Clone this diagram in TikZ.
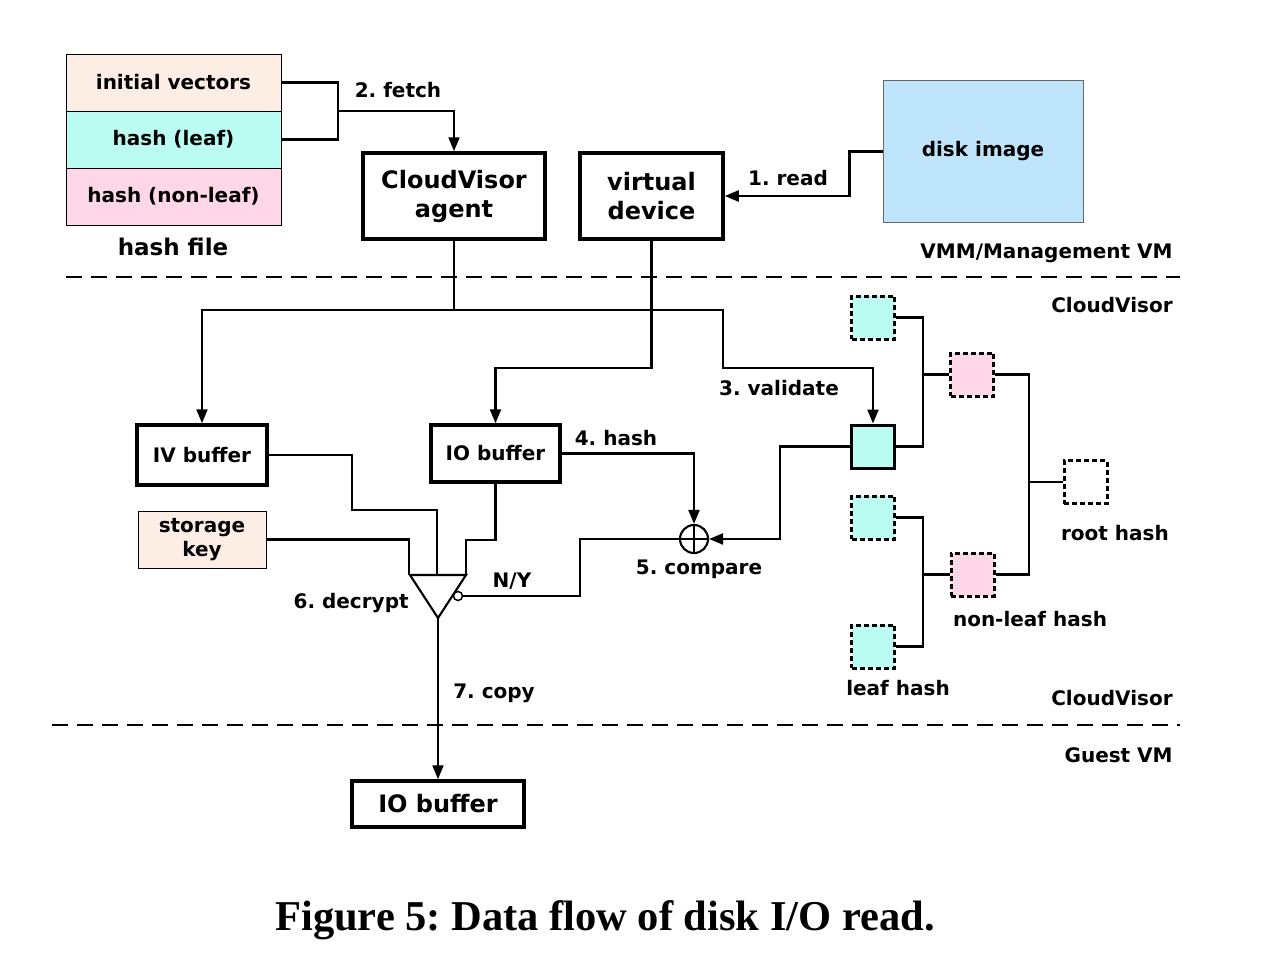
\documentclass[tikz,border=0pt]{standalone}
\usepackage{fontspec}
\setmainfont{DejaVu Sans}
\newfontfamily\capfont{Liberation Serif}
\usepackage{tikz}
\usetikzlibrary{arrows.meta}
\definecolor{ivfill}{RGB}{252,238,228}
\definecolor{leaffill}{RGB}{187,253,243}
\definecolor{nlfill}{RGB}{255,215,230}
\definecolor{diskfill}{RGB}{190,229,252}
\frenchspacing

\begin{document}
\begin{tikzpicture}[x=1pt,y=-1pt,line width=2.1pt,>={Triangle[length=14pt,width=11pt]},
  lbl/.style={font=\fontsize{20}{24}\selectfont\bfseries},
  big/.style={font=\fontsize{24}{29}\selectfont\bfseries,align=center},
  cell/.style={draw,line width=1pt,minimum width=215pt,minimum height=57pt,font=\fontsize{20}{24}\selectfont\bfseries},
  box/.style={draw,line width=3.5pt,lbl},
  sq/.style={draw,line width=3pt,minimum size=43pt,dash pattern=on 5pt off 3pt},
  sep/.style={dash pattern=on 16pt off 9pt}]
\useasboundingbox (0,0) rectangle (1275,956);

% hash file
\node [cell,fill=ivfill] (iv) at (173.5,82.5) {initial vectors};
\node [cell,fill=leaffill] (hl) at (173.5,139.5) {hash (leaf)};
\node [cell,fill=nlfill] (hnl) at (173.5,196.5) {hash (non-leaf)};
\node [font=\fontsize{23}{27}\selectfont\bfseries] (hf) at (173,247) {hash file};

% VMM side
\node [box,big,minimum width=182pt,minimum height=86pt] (agent) at (454,196) {CloudVisor\\agent};
\node [box,big,minimum width=143pt,minimum height=86pt] (vdev) at (651.5,196) {virtual\\device};
\node [draw,line width=1pt,draw=black!60,fill=diskfill,minimum width=200pt,minimum height=142pt,lbl] (disk) at (983,151.5) {disk image};
\coordinate (fj) at (338,111);
\draw (iv.east) -| (fj) |- (hl.east);
\draw [->] (fj) -| (agent.north);
\node [lbl] (fetch) at (398,90) {2. fetch};
\draw [->] (disk.west) -- ++(-33,0) |- (vdev.east);
\node [lbl] (read) at (788,178) {1. read};
\node [lbl,anchor=east] (vmm) at (1177,253) {VMM/Management VM};
\draw [sep] (66,277) -- (1180,277);
\node [lbl,anchor=east] (cv1) at (1177,305) {CloudVisor};

% hash tree
\node [sq,fill=leaffill] (l1) at (873,317.5) {};
\node [draw,line width=3pt,minimum size=43pt,fill=leaffill] (lf) at (873,446.5) {};
\node [sq,fill=leaffill] (l3) at (873,517.5) {};
\node [sq,fill=leaffill] (l4) at (873,646.5) {};
\node [sq,fill=nlfill] (n1) at (972,374.5) {};
\node [sq,fill=nlfill] (n2) at (972.5,574.5) {};
\node [sq] (root) at (1085.5,482) {};
\coordinate (j1) at (923,374.5);
\coordinate (j2) at (923,574.5);
\coordinate (j3) at (1029,482);
\draw (l1.east) -| (923,446.5) -- (lf.east);
\draw (j1) -- (n1.west);
\draw (l3.east) -| (923,646.5) -- (l4.east);
\draw (j2) -- (n2.west);
\draw (n1.east) -| (1029,574.5) -- (n2.east);
\draw (j3) -- (root.west);
\node [lbl] (rootl) at (1115,533) {root hash};
\node [lbl] (nll) at (1030,619) {non-leaf hash};
\node [lbl] (lfl) at (898,688) {leaf hash};

% buffers
\node [box,minimum width=130pt,minimum height=60pt] (ivbuf) at (202,455) {IV buffer};
\node [box,minimum width=129pt,minimum height=57pt] (iobuf) at (495.5,453.5) {IO buffer};
\node [draw,line width=1pt,fill=ivfill,minimum width=128pt,minimum height=57pt,lbl,align=center] (key) at (202,539.5) {storage\\key};
\coordinate (split) at (454,310);
\draw (agent.south) -- (split);
\draw [->] (split) -| (ivbuf.north);
\draw [->] (split) -| (723,368) -| (lf.north);
\draw [->] (vdev.south) -- (651.5,368) -| (iobuf.north);
\node [lbl] (valid) at (779,388) {3. validate};

% decrypt
\coordinate (dk) at (409,575);
\coordinate (dv) at (437,575);
\coordinate (dio) at (466,575);
\coordinate (dec) at (438,618);
\draw (410,575) -- (466,575) -- (dec) -- cycle;
\node [circle,draw,line width=1.5pt,minimum size=9pt,inner sep=0pt,fill=white] (bub) at (458,596) {};
\draw (key.east) -| (dk);
\draw (ivbuf.east) -| (352,510) -| (dv);
\draw (iobuf.south) -- (495.5,540) -| (dio);
\node [lbl,anchor=east] (decl) at (413,603) {6. decrypt};
\node [lbl] (ny) at (512,581) {N/Y};

% compare
\node [circle,draw,minimum size=28pt,inner sep=0pt] (cmp) at (694,539) {};
\draw (cmp.north) -- (cmp.south);
\draw (cmp.west) -- (cmp.east);
\draw (bub.east) -| (580,539) -- (cmp.west);
\draw [->] (iobuf.east) -| (cmp.north);
\draw [->] (lf.west) -| (780,539) -- (cmp.east);
\node [lbl] (hash) at (616,438) {4. hash};
\node [lbl] (cmpl) at (699,569) {5. compare};

% guest
\node [lbl,anchor=east] (cv2) at (1177,698) {CloudVisor};
\draw [sep] (52,725) -- (1180,725);
\node [lbl,anchor=east] (guest) at (1177,755) {Guest VM};
\node [box,minimum width=172pt,minimum height=46pt,font=\fontsize{24}{28}\selectfont\bfseries] (io2) at (438,804) {IO buffer};
\draw [->] (dec) -- (io2.north);
\node [lbl] (copy) at (494,693) {7. copy};

\node [font=\capfont\fontsize{42.5}{50}\selectfont\bfseries] (cap) at (605,920) {Figure 5: Data flow of disk I/O read.};
\end{tikzpicture}
\end{document}
